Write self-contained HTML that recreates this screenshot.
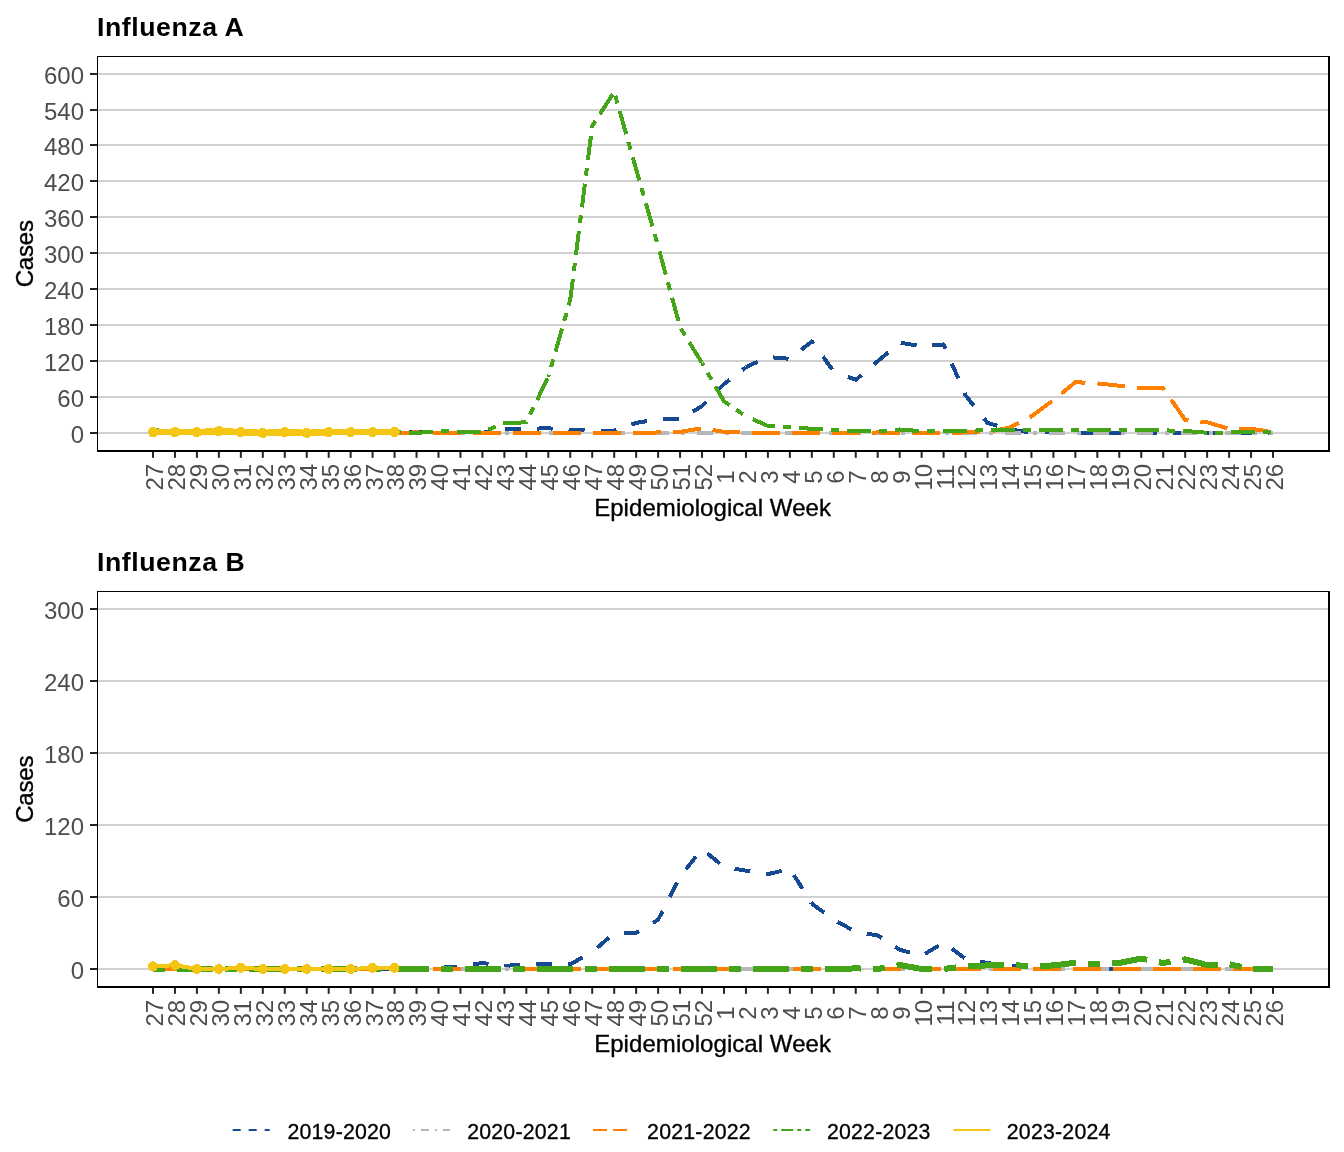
<!DOCTYPE html>
<html lang="en"><head><meta charset="utf-8"><title>Influenza A and B cases by epidemiological week</title>
<style>html,body{margin:0;padding:0;background:#fff}body{width:1344px;height:1152px;overflow:hidden}svg{display:block}</style>
</head><body>
<svg width="1344" height="1152" viewBox="0 0 1344 1152" font-family='"Liberation Sans", sans-serif'>
<rect width="1344" height="1152" fill="#fff"/>
<g id="panel1">
<rect x="98" y="432" width="1231" height="2" fill="#D0D0D0"/>
<rect x="98" y="396" width="1231" height="2" fill="#D0D0D0"/>
<rect x="98" y="360" width="1231" height="2" fill="#D0D0D0"/>
<rect x="98" y="324" width="1231" height="2" fill="#D0D0D0"/>
<rect x="98" y="288" width="1231" height="2" fill="#D0D0D0"/>
<rect x="98" y="252" width="1231" height="2" fill="#D0D0D0"/>
<rect x="98" y="216" width="1231" height="2" fill="#D0D0D0"/>
<rect x="98" y="180" width="1231" height="2" fill="#D0D0D0"/>
<rect x="98" y="144" width="1231" height="2" fill="#D0D0D0"/>
<rect x="98" y="109" width="1231" height="2" fill="#D0D0D0"/>
<rect x="98" y="73" width="1231" height="2" fill="#D0D0D0"/>
<clipPath id="clip1"><rect x="97" y="56" width="1232" height="395"/></clipPath>
<g clip-path="url(#clip1)" fill="none" stroke-linejoin="round" stroke-linecap="butt" shape-rendering="crispEdges">
<path d="M153.00,431.85 L174.96,431.85 L196.92,431.85 L218.88,431.85 L240.84,432.45 L262.81,432.45 L284.77,432.45 L306.73,432.45 L328.69,431.85 L350.65,431.85 L372.61,431.85 L394.57,431.85 L416.53,432.45 L438.49,432.45 L460.45,432.75 L482.41,432.75 L504.38,428.86 L526.34,428.86 L548.30,428.26 L570.26,430.06 L592.22,430.66 L614.18,430.66 L636.14,422.88 L658.10,419.28 L680.06,419.28 L702.02,406.12" stroke="#154A92" stroke-width="4" stroke-dasharray="16 16" stroke-dashoffset="0.00"/>
<path d="M702.02,406.12 L723.99,383.97 L745.95,367.22" stroke="#154A92" stroke-width="4" stroke-dasharray="16 16" stroke-dashoffset="553.76"/>
<path d="M745.95,367.22 L767.91,357.04 L789.87,358.84 L811.83,341.48 L833.79,371.41" stroke="#154A92" stroke-width="4" stroke-dasharray="16 16" stroke-dashoffset="611.07"/>
<path d="M833.79,371.41 L855.75,379.78 L877.71,361.23" stroke="#154A92" stroke-width="4" stroke-dasharray="16 16" stroke-dashoffset="720.91"/>
<path d="M877.71,361.23 L899.67,342.68 L921.63,346.27 L943.60,344.47 L965.56,395.35 L987.52,422.88 L1009.48,429.46 L1031.44,432.45 L1053.40,432.45 L1075.36,433.05 L1097.32,433.05 L1119.28,433.05 L1141.24,433.05 L1163.21,433.05 L1185.17,432.45 L1207.13,433.05 L1229.09,433.05 L1251.05,433.05 L1273.01,433.05" stroke="#154A92" stroke-width="4" stroke-dasharray="16 16" stroke-dashoffset="770.17"/>
<path d="M153.00,433.05 L174.96,433.05 L196.92,433.05 L218.88,433.05 L240.84,433.05 L262.81,433.05 L284.77,433.05 L306.73,433.05 L328.69,433.05 L350.65,433.05 L372.61,433.05 L394.57,433.05 L416.53,433.05 L438.49,433.05 L460.45,433.05 L482.41,433.05 L504.38,433.05 L526.34,433.05 L548.30,433.05 L570.26,433.05 L592.22,433.05 L614.18,433.05 L636.14,433.05 L658.10,433.05 L680.06,433.05 L702.02,433.05 L723.99,433.05 L745.95,433.05 L767.91,433.05 L789.87,433.05 L811.83,433.05 L833.79,433.05 L855.75,433.05 L877.71,433.05 L899.67,433.05 L921.63,433.05 L943.60,433.05 L965.56,433.05 L987.52,433.05 L1009.48,433.05 L1031.44,433.05 L1053.40,433.05 L1075.36,433.05 L1097.32,433.05 L1119.28,433.05 L1141.24,433.05 L1163.21,433.05 L1185.17,433.05 L1207.13,433.05 L1229.09,433.05 L1251.05,433.05 L1273.01,433.05" stroke="#B6B6B6" stroke-width="4" stroke-dasharray="4 12 16 12" stroke-dashoffset="0"/>
<path d="M153.00,432.45 L174.96,432.45 L196.92,432.45 L218.88,432.45 L240.84,432.45 L262.81,432.45 L284.77,432.45 L306.73,432.45 L328.69,432.45 L350.65,432.45 L372.61,432.45 L394.57,432.75 L416.53,432.45 L438.49,433.05 L460.45,433.05 L482.41,433.05 L504.38,433.05 L526.34,433.05 L548.30,432.75 L570.26,432.75 L592.22,433.05 L614.18,433.05 L636.14,433.05 L658.10,432.45 L680.06,431.85 L702.02,428.26 L723.99,431.85 L745.95,432.45 L767.91,433.05 L789.87,433.05 L811.83,433.05 L833.79,433.05 L855.75,433.05 L877.71,432.45 L899.67,433.05 L921.63,433.05 L943.60,433.05 L965.56,432.45 L987.52,431.85 L1009.48,427.66 L1031.44,416.29 L1053.40,400.13 L1075.36,382.18 L1097.32,383.38 L1119.28,385.77 L1141.24,388.16 L1163.21,388.16 L1185.17,419.88 L1207.13,422.28 L1229.09,428.86 L1251.05,428.86 L1273.01,431.85" stroke="#FF8000" stroke-width="4" stroke-dasharray="28 12" stroke-dashoffset="0"/>
<path d="M153.00,430.06 L174.96,431.85 L196.92,431.85 L218.88,431.85 L240.84,431.85 L262.81,431.85 L284.77,431.85 L306.73,431.85 L328.69,431.85 L350.65,431.85 L372.61,431.85 L394.57,431.85 L416.53,433.05 L438.49,430.96 L460.45,432.03 L482.41,432.03 L504.38,423.18 L526.34,422.28 L548.30,376.79" stroke="#45A518" stroke-width="4" stroke-dasharray="8 8 24 8" stroke-dashoffset="0.00"/>
<path d="M548.30,376.79 L570.26,299.59" stroke="#45A518" stroke-width="4" stroke-dasharray="8 8 24 8" stroke-dashoffset="421.82"/>
<path d="M570.26,299.59 L592.22,126.03 L614.18,91.91" stroke="#45A518" stroke-width="4" stroke-dasharray="8 8 24 8" stroke-dashoffset="499.08"/>
<path d="M614.18,91.91 L636.14,169.12 L658.10,246.32" stroke="#45A518" stroke-width="4" stroke-dasharray="8 8 24 8" stroke-dashoffset="716.10"/>
<path d="M658.10,246.32 L680.06,327.12 L702.02,363.03" stroke="#45A518" stroke-width="4" stroke-dasharray="8 8 24 8" stroke-dashoffset="874.63"/>
<path d="M702.02,363.03 L723.99,401.33 L745.95,416.29" stroke="#45A518" stroke-width="4" stroke-dasharray="8 8 24 8" stroke-dashoffset="996.95"/>
<path d="M745.95,416.29 L767.91,425.87 L789.87,427.07 L811.83,428.86 L833.79,430.06 L855.75,431.25 L877.71,431.25 L899.67,429.46 L921.63,431.25 L943.60,431.25 L965.56,431.25 L987.52,429.76 L1009.48,429.76 L1031.44,430.36 L1053.40,429.76 L1075.36,430.06 L1097.32,430.36 L1119.28,430.36 L1141.24,430.36 L1163.21,430.36 L1185.17,430.96 L1207.13,432.75 L1229.09,432.45 L1251.05,431.85 L1273.01,431.85" stroke="#45A518" stroke-width="4" stroke-dasharray="8 8 24 8" stroke-dashoffset="1064.68"/>
<path d="M153.00,432.15 L174.96,432.15 L196.92,432.15 L218.88,431.08 L240.84,432.15 L262.81,432.93 L284.77,432.15 L306.73,432.93 L328.69,432.15 L350.65,432.15 L372.61,432.15 L394.57,432.15" stroke="#F5C513" stroke-width="6.5"/>
<circle cx="153.00" cy="432.15" r="5.1" fill="#F5C513"/>
<circle cx="174.96" cy="432.15" r="5.1" fill="#F5C513"/>
<circle cx="196.92" cy="432.15" r="5.1" fill="#F5C513"/>
<circle cx="218.88" cy="431.08" r="5.1" fill="#F5C513"/>
<circle cx="240.84" cy="432.15" r="5.1" fill="#F5C513"/>
<circle cx="262.81" cy="432.93" r="5.1" fill="#F5C513"/>
<circle cx="284.77" cy="432.15" r="5.1" fill="#F5C513"/>
<circle cx="306.73" cy="432.93" r="5.1" fill="#F5C513"/>
<circle cx="328.69" cy="432.15" r="5.1" fill="#F5C513"/>
<circle cx="350.65" cy="432.15" r="5.1" fill="#F5C513"/>
<circle cx="372.61" cy="432.15" r="5.1" fill="#F5C513"/>
<circle cx="394.57" cy="432.15" r="5.1" fill="#F5C513"/>
</g>
<rect x="97" y="56" width="1" height="396" fill="#000"/>
<rect x="97" y="56" width="1233" height="1" fill="#000"/>
<rect x="1328" y="56" width="2" height="396" fill="#000"/>
<rect x="97" y="450" width="1233" height="2" fill="#000"/>
<rect x="90" y="432" width="7" height="2" fill="#262626"/>
<text x="84" y="442.60" font-size="24" fill="#4D4D4D" text-anchor="end">0</text>
<rect x="90" y="396" width="7" height="2" fill="#262626"/>
<text x="84" y="406.60" font-size="24" fill="#4D4D4D" text-anchor="end">60</text>
<rect x="90" y="360" width="7" height="2" fill="#262626"/>
<text x="84" y="370.60" font-size="24" fill="#4D4D4D" text-anchor="end">120</text>
<rect x="90" y="324" width="7" height="2" fill="#262626"/>
<text x="84" y="334.60" font-size="24" fill="#4D4D4D" text-anchor="end">180</text>
<rect x="90" y="288" width="7" height="2" fill="#262626"/>
<text x="84" y="298.60" font-size="24" fill="#4D4D4D" text-anchor="end">240</text>
<rect x="90" y="252" width="7" height="2" fill="#262626"/>
<text x="84" y="262.60" font-size="24" fill="#4D4D4D" text-anchor="end">300</text>
<rect x="90" y="216" width="7" height="2" fill="#262626"/>
<text x="84" y="226.60" font-size="24" fill="#4D4D4D" text-anchor="end">360</text>
<rect x="90" y="180" width="7" height="2" fill="#262626"/>
<text x="84" y="190.60" font-size="24" fill="#4D4D4D" text-anchor="end">420</text>
<rect x="90" y="144" width="7" height="2" fill="#262626"/>
<text x="84" y="154.60" font-size="24" fill="#4D4D4D" text-anchor="end">480</text>
<rect x="90" y="109" width="7" height="2" fill="#262626"/>
<text x="84" y="119.60" font-size="24" fill="#4D4D4D" text-anchor="end">540</text>
<rect x="90" y="73" width="7" height="2" fill="#262626"/>
<text x="84" y="83.60" font-size="24" fill="#4D4D4D" text-anchor="end">600</text>
<rect x="152.00" y="452" width="2" height="5.8" fill="#262626"/>
<text transform="translate(162.90,477.15) rotate(-90)" font-size="24" fill="#4D4D4D" text-anchor="middle">27</text>
<rect x="173.96" y="452" width="2" height="5.8" fill="#262626"/>
<text transform="translate(184.86,477.15) rotate(-90)" font-size="24" fill="#4D4D4D" text-anchor="middle">28</text>
<rect x="195.92" y="452" width="2" height="5.8" fill="#262626"/>
<text transform="translate(206.82,477.15) rotate(-90)" font-size="24" fill="#4D4D4D" text-anchor="middle">29</text>
<rect x="217.88" y="452" width="2" height="5.8" fill="#262626"/>
<text transform="translate(228.78,477.15) rotate(-90)" font-size="24" fill="#4D4D4D" text-anchor="middle">30</text>
<rect x="239.84" y="452" width="2" height="5.8" fill="#262626"/>
<text transform="translate(250.74,477.15) rotate(-90)" font-size="24" fill="#4D4D4D" text-anchor="middle">31</text>
<rect x="261.81" y="452" width="2" height="5.8" fill="#262626"/>
<text transform="translate(272.70,477.15) rotate(-90)" font-size="24" fill="#4D4D4D" text-anchor="middle">32</text>
<rect x="283.77" y="452" width="2" height="5.8" fill="#262626"/>
<text transform="translate(294.67,477.15) rotate(-90)" font-size="24" fill="#4D4D4D" text-anchor="middle">33</text>
<rect x="305.73" y="452" width="2" height="5.8" fill="#262626"/>
<text transform="translate(316.63,477.15) rotate(-90)" font-size="24" fill="#4D4D4D" text-anchor="middle">34</text>
<rect x="327.69" y="452" width="2" height="5.8" fill="#262626"/>
<text transform="translate(338.59,477.15) rotate(-90)" font-size="24" fill="#4D4D4D" text-anchor="middle">35</text>
<rect x="349.65" y="452" width="2" height="5.8" fill="#262626"/>
<text transform="translate(360.55,477.15) rotate(-90)" font-size="24" fill="#4D4D4D" text-anchor="middle">36</text>
<rect x="371.61" y="452" width="2" height="5.8" fill="#262626"/>
<text transform="translate(382.51,477.15) rotate(-90)" font-size="24" fill="#4D4D4D" text-anchor="middle">37</text>
<rect x="393.57" y="452" width="2" height="5.8" fill="#262626"/>
<text transform="translate(404.47,477.15) rotate(-90)" font-size="24" fill="#4D4D4D" text-anchor="middle">38</text>
<rect x="415.53" y="452" width="2" height="5.8" fill="#262626"/>
<text transform="translate(426.43,477.15) rotate(-90)" font-size="24" fill="#4D4D4D" text-anchor="middle">39</text>
<rect x="437.49" y="452" width="2" height="5.8" fill="#262626"/>
<text transform="translate(448.39,477.15) rotate(-90)" font-size="24" fill="#4D4D4D" text-anchor="middle">40</text>
<rect x="459.45" y="452" width="2" height="5.8" fill="#262626"/>
<text transform="translate(470.35,477.15) rotate(-90)" font-size="24" fill="#4D4D4D" text-anchor="middle">41</text>
<rect x="481.41" y="452" width="2" height="5.8" fill="#262626"/>
<text transform="translate(492.31,477.15) rotate(-90)" font-size="24" fill="#4D4D4D" text-anchor="middle">42</text>
<rect x="503.38" y="452" width="2" height="5.8" fill="#262626"/>
<text transform="translate(514.28,477.15) rotate(-90)" font-size="24" fill="#4D4D4D" text-anchor="middle">43</text>
<rect x="525.34" y="452" width="2" height="5.8" fill="#262626"/>
<text transform="translate(536.24,477.15) rotate(-90)" font-size="24" fill="#4D4D4D" text-anchor="middle">44</text>
<rect x="547.30" y="452" width="2" height="5.8" fill="#262626"/>
<text transform="translate(558.20,477.15) rotate(-90)" font-size="24" fill="#4D4D4D" text-anchor="middle">45</text>
<rect x="569.26" y="452" width="2" height="5.8" fill="#262626"/>
<text transform="translate(580.16,477.15) rotate(-90)" font-size="24" fill="#4D4D4D" text-anchor="middle">46</text>
<rect x="591.22" y="452" width="2" height="5.8" fill="#262626"/>
<text transform="translate(602.12,477.15) rotate(-90)" font-size="24" fill="#4D4D4D" text-anchor="middle">47</text>
<rect x="613.18" y="452" width="2" height="5.8" fill="#262626"/>
<text transform="translate(624.08,477.15) rotate(-90)" font-size="24" fill="#4D4D4D" text-anchor="middle">48</text>
<rect x="635.14" y="452" width="2" height="5.8" fill="#262626"/>
<text transform="translate(646.04,477.15) rotate(-90)" font-size="24" fill="#4D4D4D" text-anchor="middle">49</text>
<rect x="657.10" y="452" width="2" height="5.8" fill="#262626"/>
<text transform="translate(668.00,477.15) rotate(-90)" font-size="24" fill="#4D4D4D" text-anchor="middle">50</text>
<rect x="679.06" y="452" width="2" height="5.8" fill="#262626"/>
<text transform="translate(689.96,477.15) rotate(-90)" font-size="24" fill="#4D4D4D" text-anchor="middle">51</text>
<rect x="701.02" y="452" width="2" height="5.8" fill="#262626"/>
<text transform="translate(711.92,477.15) rotate(-90)" font-size="24" fill="#4D4D4D" text-anchor="middle">52</text>
<rect x="722.99" y="452" width="2" height="5.8" fill="#262626"/>
<text transform="translate(733.89,477.15) rotate(-90)" font-size="24" fill="#4D4D4D" text-anchor="middle">1</text>
<rect x="744.95" y="452" width="2" height="5.8" fill="#262626"/>
<text transform="translate(755.85,477.15) rotate(-90)" font-size="24" fill="#4D4D4D" text-anchor="middle">2</text>
<rect x="766.91" y="452" width="2" height="5.8" fill="#262626"/>
<text transform="translate(777.81,477.15) rotate(-90)" font-size="24" fill="#4D4D4D" text-anchor="middle">3</text>
<rect x="788.87" y="452" width="2" height="5.8" fill="#262626"/>
<text transform="translate(799.77,477.15) rotate(-90)" font-size="24" fill="#4D4D4D" text-anchor="middle">4</text>
<rect x="810.83" y="452" width="2" height="5.8" fill="#262626"/>
<text transform="translate(821.73,477.15) rotate(-90)" font-size="24" fill="#4D4D4D" text-anchor="middle">5</text>
<rect x="832.79" y="452" width="2" height="5.8" fill="#262626"/>
<text transform="translate(843.69,477.15) rotate(-90)" font-size="24" fill="#4D4D4D" text-anchor="middle">6</text>
<rect x="854.75" y="452" width="2" height="5.8" fill="#262626"/>
<text transform="translate(865.65,477.15) rotate(-90)" font-size="24" fill="#4D4D4D" text-anchor="middle">7</text>
<rect x="876.71" y="452" width="2" height="5.8" fill="#262626"/>
<text transform="translate(887.61,477.15) rotate(-90)" font-size="24" fill="#4D4D4D" text-anchor="middle">8</text>
<rect x="898.67" y="452" width="2" height="5.8" fill="#262626"/>
<text transform="translate(909.57,477.15) rotate(-90)" font-size="24" fill="#4D4D4D" text-anchor="middle">9</text>
<rect x="920.63" y="452" width="2" height="5.8" fill="#262626"/>
<text transform="translate(931.53,477.15) rotate(-90)" font-size="24" fill="#4D4D4D" text-anchor="middle">10</text>
<rect x="942.60" y="452" width="2" height="5.8" fill="#262626"/>
<text transform="translate(953.50,477.15) rotate(-90)" font-size="24" fill="#4D4D4D" text-anchor="middle">11</text>
<rect x="964.56" y="452" width="2" height="5.8" fill="#262626"/>
<text transform="translate(975.46,477.15) rotate(-90)" font-size="24" fill="#4D4D4D" text-anchor="middle">12</text>
<rect x="986.52" y="452" width="2" height="5.8" fill="#262626"/>
<text transform="translate(997.42,477.15) rotate(-90)" font-size="24" fill="#4D4D4D" text-anchor="middle">13</text>
<rect x="1008.48" y="452" width="2" height="5.8" fill="#262626"/>
<text transform="translate(1019.38,477.15) rotate(-90)" font-size="24" fill="#4D4D4D" text-anchor="middle">14</text>
<rect x="1030.44" y="452" width="2" height="5.8" fill="#262626"/>
<text transform="translate(1041.34,477.15) rotate(-90)" font-size="24" fill="#4D4D4D" text-anchor="middle">15</text>
<rect x="1052.40" y="452" width="2" height="5.8" fill="#262626"/>
<text transform="translate(1063.30,477.15) rotate(-90)" font-size="24" fill="#4D4D4D" text-anchor="middle">16</text>
<rect x="1074.36" y="452" width="2" height="5.8" fill="#262626"/>
<text transform="translate(1085.26,477.15) rotate(-90)" font-size="24" fill="#4D4D4D" text-anchor="middle">17</text>
<rect x="1096.32" y="452" width="2" height="5.8" fill="#262626"/>
<text transform="translate(1107.22,477.15) rotate(-90)" font-size="24" fill="#4D4D4D" text-anchor="middle">18</text>
<rect x="1118.28" y="452" width="2" height="5.8" fill="#262626"/>
<text transform="translate(1129.18,477.15) rotate(-90)" font-size="24" fill="#4D4D4D" text-anchor="middle">19</text>
<rect x="1140.24" y="452" width="2" height="5.8" fill="#262626"/>
<text transform="translate(1151.14,477.15) rotate(-90)" font-size="24" fill="#4D4D4D" text-anchor="middle">20</text>
<rect x="1162.21" y="452" width="2" height="5.8" fill="#262626"/>
<text transform="translate(1173.11,477.15) rotate(-90)" font-size="24" fill="#4D4D4D" text-anchor="middle">21</text>
<rect x="1184.17" y="452" width="2" height="5.8" fill="#262626"/>
<text transform="translate(1195.07,477.15) rotate(-90)" font-size="24" fill="#4D4D4D" text-anchor="middle">22</text>
<rect x="1206.13" y="452" width="2" height="5.8" fill="#262626"/>
<text transform="translate(1217.03,477.15) rotate(-90)" font-size="24" fill="#4D4D4D" text-anchor="middle">23</text>
<rect x="1228.09" y="452" width="2" height="5.8" fill="#262626"/>
<text transform="translate(1238.99,477.15) rotate(-90)" font-size="24" fill="#4D4D4D" text-anchor="middle">24</text>
<rect x="1250.05" y="452" width="2" height="5.8" fill="#262626"/>
<text transform="translate(1260.95,477.15) rotate(-90)" font-size="24" fill="#4D4D4D" text-anchor="middle">25</text>
<rect x="1272.01" y="452" width="2" height="5.8" fill="#262626"/>
<text transform="translate(1282.91,477.15) rotate(-90)" font-size="24" fill="#4D4D4D" text-anchor="middle">26</text>
<text x="97" y="35.8" font-size="26.67" font-weight="bold" fill="#000" letter-spacing="0.56">Influenza A</text>
<text x="712.6" y="516" font-size="24" fill="#000" text-anchor="middle" letter-spacing="0.06" stroke="#000" stroke-width="0.35">Epidemiological Week</text>
<text transform="translate(33,253.8) rotate(-90)" font-size="24" fill="#000" text-anchor="middle" letter-spacing="-0.2" stroke="#000" stroke-width="0.35">Cases</text>
</g>
<g id="panel2">
<rect x="98" y="968" width="1231" height="2" fill="#D0D0D0"/>
<rect x="98" y="896" width="1231" height="2" fill="#D0D0D0"/>
<rect x="98" y="824" width="1231" height="2" fill="#D0D0D0"/>
<rect x="98" y="752" width="1231" height="2" fill="#D0D0D0"/>
<rect x="98" y="680" width="1231" height="2" fill="#D0D0D0"/>
<rect x="98" y="608" width="1231" height="2" fill="#D0D0D0"/>
<clipPath id="clip2"><rect x="97" y="591" width="1232" height="396"/></clipPath>
<g clip-path="url(#clip2)" fill="none" stroke-linejoin="round" stroke-linecap="butt" shape-rendering="crispEdges">
<path d="M153.00,969.00 L174.96,969.00 L196.92,969.00 L218.88,969.00 L240.84,969.00 L262.81,969.00 L284.77,969.00 L306.73,969.00 L328.69,969.00 L350.65,969.00 L372.61,969.00 L394.57,969.00 L416.53,969.00 L438.49,967.80 L460.45,966.60 L482.41,963.00 L504.38,966.00 L526.34,964.20 L548.30,964.20 L570.26,964.20 L592.22,952.20" stroke="#154A92" stroke-width="4" stroke-dasharray="16 16" stroke-dashoffset="0.00"/>
<path d="M592.22,952.20 L614.18,933.00 L636.14,933.00 L658.10,919.80 L680.06,876.60 L702.02,849.00" stroke="#154A92" stroke-width="4" stroke-dasharray="16 16" stroke-dashoffset="441.42"/>
<path d="M702.02,849.00 L723.99,867.00 L745.95,870.60 L767.91,874.20 L789.87,868.80 L811.83,903.60" stroke="#154A92" stroke-width="4" stroke-dasharray="16 16" stroke-dashoffset="600.91"/>
<path d="M811.83,903.60 L833.79,919.80 L855.75,931.80 L877.71,935.40 L899.67,949.80 L921.63,955.80 L943.60,942.60 L965.56,958.80 L987.52,963.00 L1009.48,966.00 L1031.44,966.00 L1053.40,969.00 L1075.36,969.00 L1097.32,969.00 L1119.28,969.00 L1141.24,969.00 L1163.21,969.00 L1185.17,969.00 L1207.13,969.00 L1229.09,969.00 L1251.05,969.00 L1273.01,969.00" stroke="#154A92" stroke-width="4" stroke-dasharray="16 16" stroke-dashoffset="736.58"/>
<path d="M153.00,969.00 L174.96,969.00 L196.92,969.00 L218.88,969.00 L240.84,969.00 L262.81,969.00 L284.77,969.00 L306.73,969.00 L328.69,969.00 L350.65,969.00 L372.61,969.00 L394.57,969.00 L416.53,969.00 L438.49,969.00 L460.45,969.00 L482.41,969.00 L504.38,969.00 L526.34,969.00 L548.30,969.00 L570.26,969.00 L592.22,969.00 L614.18,969.00 L636.14,969.00 L658.10,969.00 L680.06,969.00 L702.02,969.00 L723.99,969.00 L745.95,969.00 L767.91,969.00 L789.87,969.00 L811.83,969.00 L833.79,969.00 L855.75,969.00 L877.71,969.00 L899.67,969.00 L921.63,969.00 L943.60,969.00 L965.56,969.00 L987.52,969.00 L1009.48,969.00 L1031.44,969.00 L1053.40,969.00 L1075.36,969.00 L1097.32,969.00 L1119.28,969.00 L1141.24,969.00 L1163.21,969.00 L1185.17,969.00 L1207.13,969.00 L1229.09,969.00 L1251.05,969.00 L1273.01,969.00" stroke="#B6B6B6" stroke-width="4" stroke-dasharray="4 12 16 12" stroke-dashoffset="0"/>
<path d="M153.00,969.00 L174.96,969.00 L196.92,969.00 L218.88,969.00 L240.84,969.00 L262.81,969.00 L284.77,969.00 L306.73,969.00 L328.69,969.00 L350.65,969.00 L372.61,969.00 L394.57,969.00 L416.53,969.00 L438.49,969.00 L460.45,969.00 L482.41,969.00 L504.38,969.00 L526.34,969.00 L548.30,969.00 L570.26,969.00 L592.22,969.00 L614.18,969.00 L636.14,969.00 L658.10,969.00 L680.06,969.00 L702.02,969.00 L723.99,969.00 L745.95,969.00 L767.91,969.00 L789.87,969.00 L811.83,969.00 L833.79,969.00 L855.75,969.00 L877.71,969.00 L899.67,969.00 L921.63,969.00 L943.60,969.00 L965.56,969.00 L987.52,969.00 L1009.48,969.00 L1031.44,969.00 L1053.40,969.00 L1075.36,969.00 L1097.32,969.00 L1119.28,969.00 L1141.24,969.00 L1163.21,969.00 L1185.17,969.00 L1207.13,969.00 L1229.09,969.00 L1251.05,969.00 L1273.01,969.00" stroke="#FF8000" stroke-width="4" stroke-dasharray="28 12" stroke-dashoffset="0"/>
<path d="M153.00,969.00 L174.96,969.00 L196.92,968.52 L218.88,968.52 L240.84,968.52 L262.81,968.52 L284.77,968.52 L306.73,968.52 L328.69,968.52 L350.65,968.52 L372.61,968.52 L394.57,968.76 L416.53,969.00 L438.49,969.00 L460.45,969.00 L482.41,969.00 L504.38,969.00 L526.34,969.00 L548.30,969.00 L570.26,969.00 L592.22,969.00 L614.18,969.00 L636.14,969.00 L658.10,969.00 L680.06,969.00 L702.02,969.00 L723.99,969.00 L745.95,969.00 L767.91,969.00 L789.87,969.00 L811.83,969.00 L833.79,969.00 L855.75,968.40 L877.71,969.00 L899.67,965.04 L921.63,969.00 L943.60,969.00 L965.56,966.24 L987.52,965.40 L1009.48,964.44 L1031.44,966.60 L1053.40,965.40 L1075.36,962.76 L1097.32,964.20 L1119.28,963.00 L1141.24,958.56 L1163.21,963.00 L1185.17,959.40 L1207.13,965.04 L1229.09,964.20 L1251.05,969.00 L1273.01,969.00" stroke="#45A518" stroke-width="6" stroke-dasharray="12 12 36 12" stroke-dashoffset="0"/>
<path d="M153.00,966.36 L174.96,965.16 L196.92,969.00 L218.88,969.00 L240.84,967.80 L262.81,969.00 L284.77,969.00 L306.73,969.00 L328.69,969.00 L350.65,969.00 L372.61,967.80 L394.57,967.80" stroke="#F5C513" stroke-width="4"/>
<circle cx="153.00" cy="966.36" r="5.0" fill="#F5C513"/>
<circle cx="174.96" cy="965.16" r="5.0" fill="#F5C513"/>
<circle cx="196.92" cy="969.00" r="5.0" fill="#F5C513"/>
<circle cx="218.88" cy="969.00" r="5.0" fill="#F5C513"/>
<circle cx="240.84" cy="967.80" r="5.0" fill="#F5C513"/>
<circle cx="262.81" cy="969.00" r="5.0" fill="#F5C513"/>
<circle cx="284.77" cy="969.00" r="5.0" fill="#F5C513"/>
<circle cx="306.73" cy="969.00" r="5.0" fill="#F5C513"/>
<circle cx="328.69" cy="969.00" r="5.0" fill="#F5C513"/>
<circle cx="350.65" cy="969.00" r="5.0" fill="#F5C513"/>
<circle cx="372.61" cy="967.80" r="5.0" fill="#F5C513"/>
<circle cx="394.57" cy="967.80" r="5.0" fill="#F5C513"/>
</g>
<rect x="97" y="591" width="1" height="397" fill="#000"/>
<rect x="97" y="591" width="1233" height="1" fill="#000"/>
<rect x="1328" y="591" width="2" height="397" fill="#000"/>
<rect x="97" y="986" width="1233" height="2" fill="#000"/>
<rect x="90" y="968" width="7" height="2" fill="#262626"/>
<text x="84" y="978.60" font-size="24" fill="#4D4D4D" text-anchor="end">0</text>
<rect x="90" y="896" width="7" height="2" fill="#262626"/>
<text x="84" y="906.60" font-size="24" fill="#4D4D4D" text-anchor="end">60</text>
<rect x="90" y="824" width="7" height="2" fill="#262626"/>
<text x="84" y="834.60" font-size="24" fill="#4D4D4D" text-anchor="end">120</text>
<rect x="90" y="752" width="7" height="2" fill="#262626"/>
<text x="84" y="762.60" font-size="24" fill="#4D4D4D" text-anchor="end">180</text>
<rect x="90" y="680" width="7" height="2" fill="#262626"/>
<text x="84" y="690.60" font-size="24" fill="#4D4D4D" text-anchor="end">240</text>
<rect x="90" y="608" width="7" height="2" fill="#262626"/>
<text x="84" y="618.60" font-size="24" fill="#4D4D4D" text-anchor="end">300</text>
<rect x="152.00" y="988" width="2" height="5.8" fill="#262626"/>
<text transform="translate(162.90,1013.15) rotate(-90)" font-size="24" fill="#4D4D4D" text-anchor="middle">27</text>
<rect x="173.96" y="988" width="2" height="5.8" fill="#262626"/>
<text transform="translate(184.86,1013.15) rotate(-90)" font-size="24" fill="#4D4D4D" text-anchor="middle">28</text>
<rect x="195.92" y="988" width="2" height="5.8" fill="#262626"/>
<text transform="translate(206.82,1013.15) rotate(-90)" font-size="24" fill="#4D4D4D" text-anchor="middle">29</text>
<rect x="217.88" y="988" width="2" height="5.8" fill="#262626"/>
<text transform="translate(228.78,1013.15) rotate(-90)" font-size="24" fill="#4D4D4D" text-anchor="middle">30</text>
<rect x="239.84" y="988" width="2" height="5.8" fill="#262626"/>
<text transform="translate(250.74,1013.15) rotate(-90)" font-size="24" fill="#4D4D4D" text-anchor="middle">31</text>
<rect x="261.81" y="988" width="2" height="5.8" fill="#262626"/>
<text transform="translate(272.70,1013.15) rotate(-90)" font-size="24" fill="#4D4D4D" text-anchor="middle">32</text>
<rect x="283.77" y="988" width="2" height="5.8" fill="#262626"/>
<text transform="translate(294.67,1013.15) rotate(-90)" font-size="24" fill="#4D4D4D" text-anchor="middle">33</text>
<rect x="305.73" y="988" width="2" height="5.8" fill="#262626"/>
<text transform="translate(316.63,1013.15) rotate(-90)" font-size="24" fill="#4D4D4D" text-anchor="middle">34</text>
<rect x="327.69" y="988" width="2" height="5.8" fill="#262626"/>
<text transform="translate(338.59,1013.15) rotate(-90)" font-size="24" fill="#4D4D4D" text-anchor="middle">35</text>
<rect x="349.65" y="988" width="2" height="5.8" fill="#262626"/>
<text transform="translate(360.55,1013.15) rotate(-90)" font-size="24" fill="#4D4D4D" text-anchor="middle">36</text>
<rect x="371.61" y="988" width="2" height="5.8" fill="#262626"/>
<text transform="translate(382.51,1013.15) rotate(-90)" font-size="24" fill="#4D4D4D" text-anchor="middle">37</text>
<rect x="393.57" y="988" width="2" height="5.8" fill="#262626"/>
<text transform="translate(404.47,1013.15) rotate(-90)" font-size="24" fill="#4D4D4D" text-anchor="middle">38</text>
<rect x="415.53" y="988" width="2" height="5.8" fill="#262626"/>
<text transform="translate(426.43,1013.15) rotate(-90)" font-size="24" fill="#4D4D4D" text-anchor="middle">39</text>
<rect x="437.49" y="988" width="2" height="5.8" fill="#262626"/>
<text transform="translate(448.39,1013.15) rotate(-90)" font-size="24" fill="#4D4D4D" text-anchor="middle">40</text>
<rect x="459.45" y="988" width="2" height="5.8" fill="#262626"/>
<text transform="translate(470.35,1013.15) rotate(-90)" font-size="24" fill="#4D4D4D" text-anchor="middle">41</text>
<rect x="481.41" y="988" width="2" height="5.8" fill="#262626"/>
<text transform="translate(492.31,1013.15) rotate(-90)" font-size="24" fill="#4D4D4D" text-anchor="middle">42</text>
<rect x="503.38" y="988" width="2" height="5.8" fill="#262626"/>
<text transform="translate(514.28,1013.15) rotate(-90)" font-size="24" fill="#4D4D4D" text-anchor="middle">43</text>
<rect x="525.34" y="988" width="2" height="5.8" fill="#262626"/>
<text transform="translate(536.24,1013.15) rotate(-90)" font-size="24" fill="#4D4D4D" text-anchor="middle">44</text>
<rect x="547.30" y="988" width="2" height="5.8" fill="#262626"/>
<text transform="translate(558.20,1013.15) rotate(-90)" font-size="24" fill="#4D4D4D" text-anchor="middle">45</text>
<rect x="569.26" y="988" width="2" height="5.8" fill="#262626"/>
<text transform="translate(580.16,1013.15) rotate(-90)" font-size="24" fill="#4D4D4D" text-anchor="middle">46</text>
<rect x="591.22" y="988" width="2" height="5.8" fill="#262626"/>
<text transform="translate(602.12,1013.15) rotate(-90)" font-size="24" fill="#4D4D4D" text-anchor="middle">47</text>
<rect x="613.18" y="988" width="2" height="5.8" fill="#262626"/>
<text transform="translate(624.08,1013.15) rotate(-90)" font-size="24" fill="#4D4D4D" text-anchor="middle">48</text>
<rect x="635.14" y="988" width="2" height="5.8" fill="#262626"/>
<text transform="translate(646.04,1013.15) rotate(-90)" font-size="24" fill="#4D4D4D" text-anchor="middle">49</text>
<rect x="657.10" y="988" width="2" height="5.8" fill="#262626"/>
<text transform="translate(668.00,1013.15) rotate(-90)" font-size="24" fill="#4D4D4D" text-anchor="middle">50</text>
<rect x="679.06" y="988" width="2" height="5.8" fill="#262626"/>
<text transform="translate(689.96,1013.15) rotate(-90)" font-size="24" fill="#4D4D4D" text-anchor="middle">51</text>
<rect x="701.02" y="988" width="2" height="5.8" fill="#262626"/>
<text transform="translate(711.92,1013.15) rotate(-90)" font-size="24" fill="#4D4D4D" text-anchor="middle">52</text>
<rect x="722.99" y="988" width="2" height="5.8" fill="#262626"/>
<text transform="translate(733.89,1013.15) rotate(-90)" font-size="24" fill="#4D4D4D" text-anchor="middle">1</text>
<rect x="744.95" y="988" width="2" height="5.8" fill="#262626"/>
<text transform="translate(755.85,1013.15) rotate(-90)" font-size="24" fill="#4D4D4D" text-anchor="middle">2</text>
<rect x="766.91" y="988" width="2" height="5.8" fill="#262626"/>
<text transform="translate(777.81,1013.15) rotate(-90)" font-size="24" fill="#4D4D4D" text-anchor="middle">3</text>
<rect x="788.87" y="988" width="2" height="5.8" fill="#262626"/>
<text transform="translate(799.77,1013.15) rotate(-90)" font-size="24" fill="#4D4D4D" text-anchor="middle">4</text>
<rect x="810.83" y="988" width="2" height="5.8" fill="#262626"/>
<text transform="translate(821.73,1013.15) rotate(-90)" font-size="24" fill="#4D4D4D" text-anchor="middle">5</text>
<rect x="832.79" y="988" width="2" height="5.8" fill="#262626"/>
<text transform="translate(843.69,1013.15) rotate(-90)" font-size="24" fill="#4D4D4D" text-anchor="middle">6</text>
<rect x="854.75" y="988" width="2" height="5.8" fill="#262626"/>
<text transform="translate(865.65,1013.15) rotate(-90)" font-size="24" fill="#4D4D4D" text-anchor="middle">7</text>
<rect x="876.71" y="988" width="2" height="5.8" fill="#262626"/>
<text transform="translate(887.61,1013.15) rotate(-90)" font-size="24" fill="#4D4D4D" text-anchor="middle">8</text>
<rect x="898.67" y="988" width="2" height="5.8" fill="#262626"/>
<text transform="translate(909.57,1013.15) rotate(-90)" font-size="24" fill="#4D4D4D" text-anchor="middle">9</text>
<rect x="920.63" y="988" width="2" height="5.8" fill="#262626"/>
<text transform="translate(931.53,1013.15) rotate(-90)" font-size="24" fill="#4D4D4D" text-anchor="middle">10</text>
<rect x="942.60" y="988" width="2" height="5.8" fill="#262626"/>
<text transform="translate(953.50,1013.15) rotate(-90)" font-size="24" fill="#4D4D4D" text-anchor="middle">11</text>
<rect x="964.56" y="988" width="2" height="5.8" fill="#262626"/>
<text transform="translate(975.46,1013.15) rotate(-90)" font-size="24" fill="#4D4D4D" text-anchor="middle">12</text>
<rect x="986.52" y="988" width="2" height="5.8" fill="#262626"/>
<text transform="translate(997.42,1013.15) rotate(-90)" font-size="24" fill="#4D4D4D" text-anchor="middle">13</text>
<rect x="1008.48" y="988" width="2" height="5.8" fill="#262626"/>
<text transform="translate(1019.38,1013.15) rotate(-90)" font-size="24" fill="#4D4D4D" text-anchor="middle">14</text>
<rect x="1030.44" y="988" width="2" height="5.8" fill="#262626"/>
<text transform="translate(1041.34,1013.15) rotate(-90)" font-size="24" fill="#4D4D4D" text-anchor="middle">15</text>
<rect x="1052.40" y="988" width="2" height="5.8" fill="#262626"/>
<text transform="translate(1063.30,1013.15) rotate(-90)" font-size="24" fill="#4D4D4D" text-anchor="middle">16</text>
<rect x="1074.36" y="988" width="2" height="5.8" fill="#262626"/>
<text transform="translate(1085.26,1013.15) rotate(-90)" font-size="24" fill="#4D4D4D" text-anchor="middle">17</text>
<rect x="1096.32" y="988" width="2" height="5.8" fill="#262626"/>
<text transform="translate(1107.22,1013.15) rotate(-90)" font-size="24" fill="#4D4D4D" text-anchor="middle">18</text>
<rect x="1118.28" y="988" width="2" height="5.8" fill="#262626"/>
<text transform="translate(1129.18,1013.15) rotate(-90)" font-size="24" fill="#4D4D4D" text-anchor="middle">19</text>
<rect x="1140.24" y="988" width="2" height="5.8" fill="#262626"/>
<text transform="translate(1151.14,1013.15) rotate(-90)" font-size="24" fill="#4D4D4D" text-anchor="middle">20</text>
<rect x="1162.21" y="988" width="2" height="5.8" fill="#262626"/>
<text transform="translate(1173.11,1013.15) rotate(-90)" font-size="24" fill="#4D4D4D" text-anchor="middle">21</text>
<rect x="1184.17" y="988" width="2" height="5.8" fill="#262626"/>
<text transform="translate(1195.07,1013.15) rotate(-90)" font-size="24" fill="#4D4D4D" text-anchor="middle">22</text>
<rect x="1206.13" y="988" width="2" height="5.8" fill="#262626"/>
<text transform="translate(1217.03,1013.15) rotate(-90)" font-size="24" fill="#4D4D4D" text-anchor="middle">23</text>
<rect x="1228.09" y="988" width="2" height="5.8" fill="#262626"/>
<text transform="translate(1238.99,1013.15) rotate(-90)" font-size="24" fill="#4D4D4D" text-anchor="middle">24</text>
<rect x="1250.05" y="988" width="2" height="5.8" fill="#262626"/>
<text transform="translate(1260.95,1013.15) rotate(-90)" font-size="24" fill="#4D4D4D" text-anchor="middle">25</text>
<rect x="1272.01" y="988" width="2" height="5.8" fill="#262626"/>
<text transform="translate(1282.91,1013.15) rotate(-90)" font-size="24" fill="#4D4D4D" text-anchor="middle">26</text>
<text x="97" y="571.0" font-size="26.67" font-weight="bold" fill="#000" letter-spacing="0.56">Influenza B</text>
<text x="712.6" y="1052" font-size="24" fill="#000" text-anchor="middle" letter-spacing="0.06" stroke="#000" stroke-width="0.35">Epidemiological Week</text>
<text transform="translate(33,789.3) rotate(-90)" font-size="24" fill="#000" text-anchor="middle" letter-spacing="-0.2" stroke="#000" stroke-width="0.35">Cases</text>
</g>
<g id="legend">
<path d="M232.7,1130 h37" stroke="#154A92" stroke-width="2" fill="none" stroke-dasharray="8 8"/>
<text x="287.4" y="1138.5" font-size="21.33" fill="#000" letter-spacing="0.2" stroke="#000" stroke-width="0.3">2019-2020</text>
<path d="M412.9,1130 h37" stroke="#B6B6B6" stroke-width="2" fill="none" stroke-dasharray="2 6 8 6"/>
<text x="467.2" y="1138.5" font-size="21.33" fill="#000" letter-spacing="0.2" stroke="#000" stroke-width="0.3">2020-2021</text>
<path d="M593.0,1130 h37" stroke="#FF8000" stroke-width="2" fill="none" stroke-dasharray="14 6"/>
<text x="647.1" y="1138.5" font-size="21.33" fill="#000" letter-spacing="0.2" stroke="#000" stroke-width="0.3">2021-2022</text>
<path d="M773.2,1130 h37" stroke="#45A518" stroke-width="2" fill="none" stroke-dasharray="4 4 12 4"/>
<text x="826.9" y="1138.5" font-size="21.33" fill="#000" letter-spacing="0.2" stroke="#000" stroke-width="0.3">2022-2023</text>
<path d="M953.3,1130 h37" stroke="#F5C513" stroke-width="2" fill="none"/>
<text x="1006.8" y="1138.5" font-size="21.33" fill="#000" letter-spacing="0.2" stroke="#000" stroke-width="0.3">2023-2024</text>
</g>
</svg>
</body></html>
